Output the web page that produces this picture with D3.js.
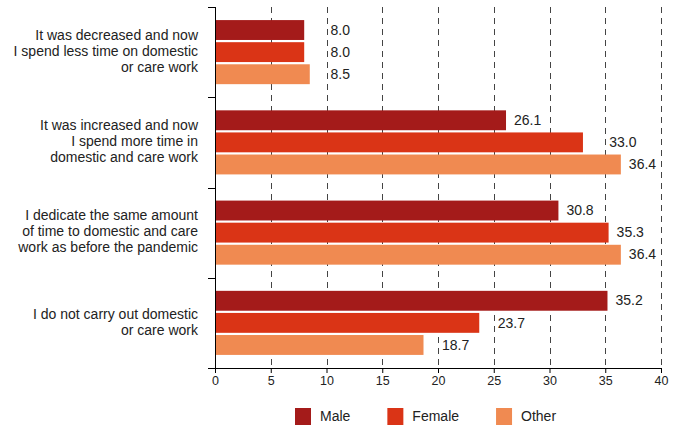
<!DOCTYPE html>
<html>
<head>
<meta charset="utf-8">
<script src="https://cdn.jsdelivr.net/npm/d3@7"></script>
<style>
  html, body { margin: 0; padding: 0; background: #fff; }
  svg { display: block; font-family: "Liberation Sans", Arial, Helvetica, sans-serif; }
</style>
</head>
<body>
<svg id="chart" width="677" height="425"></svg>
<script>
const categories = [
  ["It was decreased and now", "I spend less time on domestic", "or care work"],
  ["It was increased and now", "I spend more time in", "domestic and care work"],
  ["I dedicate the same amount", "of time to domestic and care", "work as before the pandemic"],
  ["I do not carry out domestic", "or care work"]
];
const seriesNames = ["Male", "Female", "Other"];
const male = [8.0, 26.1, 30.8, 35.2];
const female = [8.0, 33.0, 35.3, 23.7];
const other = [8.5, 36.4, 36.4, 18.7];
const xTicks = [0, 5, 10, 15, 20, 25, 30, 35, 40];
const colors = ["#a41b1a", "#da3416", "#f08a51"];

const seriesValues = [male, female, other];
const svg = d3.select("#chart");
const margin = { left: 215, right: 16, top: 7, bottom: 57 };
const W = 677, H = 425;
const plotBottom = H - margin.bottom; // 368

const x = d3.scaleLinear().domain([0, 40]).range([margin.left, W - margin.right]);
const y0 = d3.scaleBand().domain(d3.range(categories.length)).range([margin.top, plotBottom])
  .paddingInner(0.29).paddingOuter(0.145);
const y1 = d3.scaleBand().domain(d3.range(seriesNames.length)).range([0, y0.bandwidth()]).paddingInner(0.1);

// gridlines
svg.append("g").selectAll("line").data(xTicks.filter(d => d > 0)).join("line")
  .attr("x1", d => Math.round(x(d)) + 0.5).attr("x2", d => Math.round(x(d)) + 0.5)
  .attr("y1", margin.top).attr("y2", plotBottom)
  .attr("stroke", "#444").attr("stroke-width", 1).attr("stroke-dasharray", "6,5");

// bars
const groups = svg.append("g").selectAll("g").data(categories).join("g")
  .attr("transform", (d, i) => `translate(0,${y0(i)})`);
groups.each(function(cat, ci) {
  const g = d3.select(this);
  seriesNames.forEach((s, si) => {
    const v = seriesValues[si][ci];
    g.append("rect")
      .attr("x", x(0)).attr("y", y1(si))
      .attr("width", x(v) - x(0)).attr("height", y1.bandwidth())
      .attr("fill", colors[si]);
  });
});

// left axis
const yAxisG = svg.append("g");
yAxisG.append("line").attr("x1", x(0) + 0.5).attr("x2", x(0) + 0.5)
  .attr("y1", margin.top).attr("y2", plotBottom).attr("stroke", "#000");
const boundaries = d3.range(categories.length + 1).map(i => i < categories.length ? y0(i) - y0.step() * y0.paddingInner() / 2 : plotBottom);
yAxisG.selectAll("line.tick").data(boundaries).join("line").attr("class", "tick")
  .attr("x1", x(0) - 7).attr("x2", x(0) + 0.5)
  .attr("y1", d => Math.round(d) + 0.5).attr("y2", d => Math.round(d) + 0.5)
  .attr("stroke", "#000");

// bottom axis
const xAxis = d3.axisBottom(x).tickValues(xTicks).tickSize(5).tickPadding(3).tickFormat(d3.format("d"));
const xg = svg.append("g").attr("transform", `translate(0,${plotBottom})`).call(xAxis);
xg.select(".domain").attr("d", `M${x(0) - 7},0.5H${x(40)}`).attr("stroke", "#000");
xg.selectAll(".tick line").attr("stroke", "#000");
xg.selectAll(".tick text").attr("font-size", 12.5).attr("fill", "#222")
  .attr("font-family", "'Liberation Sans', Arial, sans-serif");

// value labels
const gridXs = xTicks.filter(d => d > 0).map(d => x(d));
groups.each(function(cat, ci) {
  const g = d3.select(this);
  seriesNames.forEach((s, si) => {
    const v = seriesValues[si][ci];
    const end = x(v);
    let lx = end + 8;
    const w = 25;
    gridXs.forEach(gx => { if (gx > end && lx < gx + 2 && lx + w > gx - 1) lx = gx + 4; });
    g.append("text")
      .attr("x", lx).attr("y", y1(si) + y1.bandwidth() / 2 + 1)
      .attr("dominant-baseline", "middle")
      .attr("font-size", 14).attr("fill", "#222")
      .text(v.toFixed(1));
  });
});

// category labels
categories.forEach((lines, ci) => {
  const cy = y0(ci) + y0.bandwidth() / 2;
  const t = svg.append("text").attr("text-anchor", "end").attr("font-size", 14).attr("fill", "#222");
  lines.forEach((ln, li) => {
    t.append("tspan").attr("x", 198)
      .attr("y", cy + (li - (lines.length - 1) / 2) * 16)
      .attr("dominant-baseline", "middle")
      .text(ln);
  });
});

// legend
const legend = svg.append("g");
let lx = 295;
seriesNames.forEach((s, i) => {
  legend.append("rect").attr("x", lx).attr("y", 408).attr("width", 16).attr("height", 17).attr("fill", colors[i]);
  const t = legend.append("text").attr("x", lx + 25).attr("y", 421).attr("font-size", 14).attr("fill", "#222").text(s);
  lx += 25 + t.node().getComputedTextLength() + 37;
});
</script>
</body>
</html>
